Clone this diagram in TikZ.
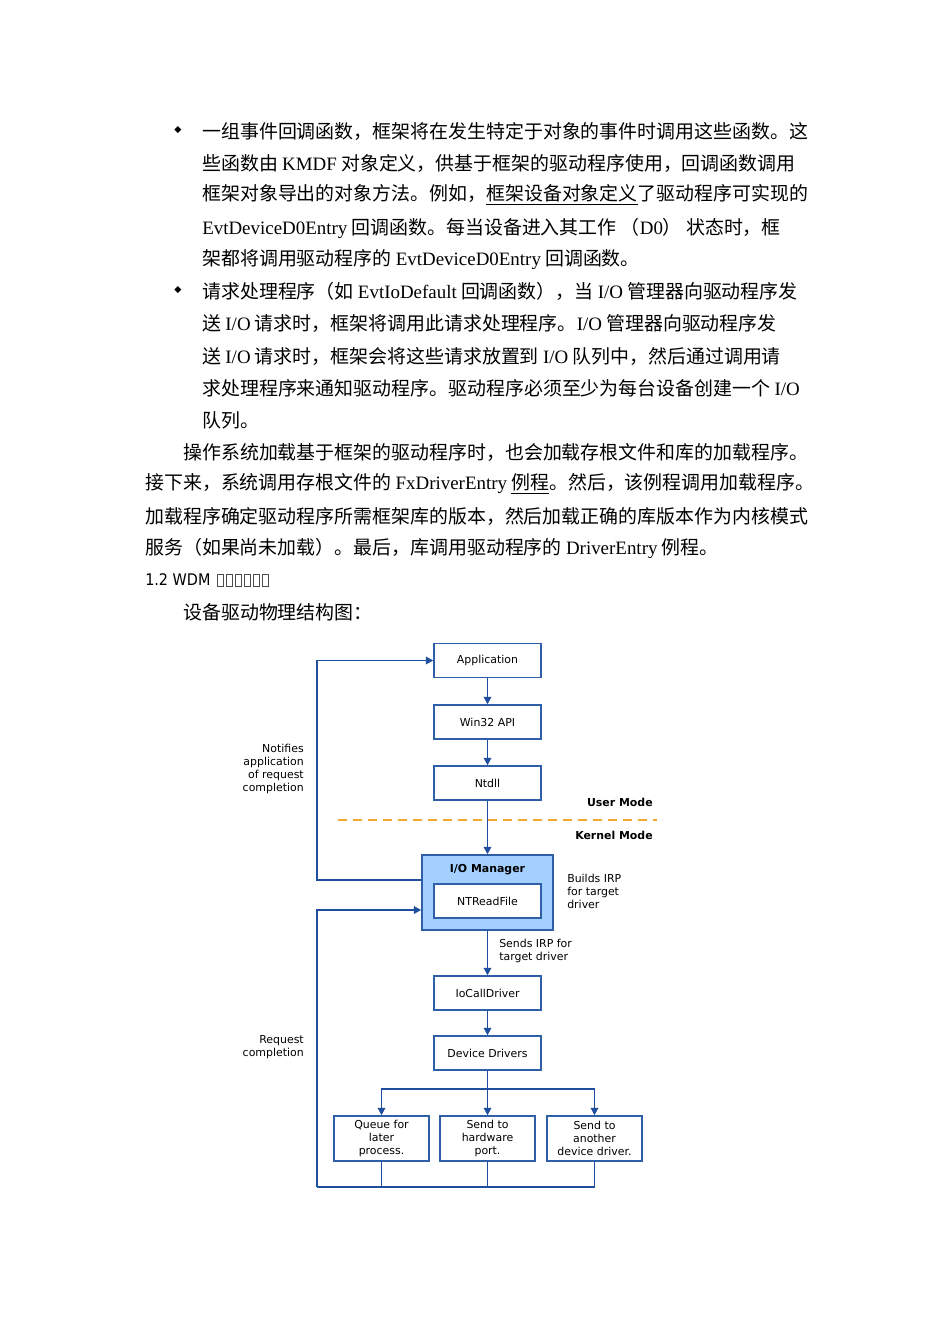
\documentclass[tikz,border=0pt]{standalone}
\usepackage{fontspec}
\setmainfont{Noto Sans CJK SC}
\newfontfamily\lat{Liberation Serif}
\newfontfamily\dv{DejaVu Sans}
\newfontfamily\hd{DejaVu Sans Condensed}
\usetikzlibrary{arrows.meta}
\newcommand{\e}[1]{{\lat #1}}
\definecolor{ln}{HTML}{1F4E9F}
\definecolor{bx}{HTML}{2F5FA8}
\definecolor{mgr}{HTML}{A3D0FF}
\definecolor{org}{HTML}{F0A830}
\begin{document}
\begin{tikzpicture}[x=0.75pt,y=-0.75pt,
  para/.style={anchor=west,inner sep=0pt,font=\fontsize{14.2pt}{16pt}\selectfont},
  bul/.style={inner sep=0pt,font=\dv\fontsize{7pt}{8pt}\selectfont},
  box/.style={draw=bx,line width=1.1pt,fill=white,minimum width=80.25pt,minimum height=25.5pt,inner sep=0pt,font=\dv\fontsize{8.2pt}{9.75pt}\selectfont},
  sbox/.style={draw=bx,line width=1.1pt,fill=white,minimum width=71.25pt,minimum height=33.75pt,inner sep=0pt,align=center,font=\dv\fontsize{8.2pt}{9.75pt}\selectfont},
  lbl/.style={inner sep=0pt,font=\dv\fontsize{8.2pt}{9.75pt}\selectfont},
  con/.style={draw=ln,line width=1.4pt,line join=miter},
  arr/.style={con,-{Triangle[length=5.5pt,width=5.5pt]}}]
\useasboundingbox (0,0) rectangle (950,1344);
\fill[white] (0,0) rectangle (950,1344);
% text
\node[bul] (b1) at (178,130) {◆};
\node[para] (l1) at (202,131) {一组事件回调函数，框架将在发生特定于对象的事件时调用这些函数。这};
\node[para] (l2) at (202,163) {些函数由 \e{KMDF} 对象定义，供基于框架的驱动程序使用，回调函数调用};
\node[para] (l3) at (202,195) {框架对象导出的对象方法。例如，\underline{框架设备对象定义}了驱动程序可实现的};
\node[para] (l4) at (202,228) {\e{EvtDeviceD0Entry} 回调函数。每当设备进入其工作 （\e{D0}） 状态时，框};
\node[para] (l5) at (202,260) {架都将调用驱动程序的 \e{EvtDeviceD0Entry} 回调函数。};
\node[bul] (b2) at (178,290) {◆};
\node[para] (l6) at (202,291) {请求处理程序（如 \e{EvtIoDefault} 回调函数），当 \e{I/O} 管理器向驱动程序发};
\node[para] (l7) at (202,324) {送 \e{I/O} 请求时，框架将调用此请求处理程序。\e{I/O} 管理器向驱动程序发};
\node[para] (l8) at (202,356) {送 \e{I/O} 请求时，框架会将这些请求放置到 \e{I/O} 队列中，然后通过调用请};
\node[para] (l9) at (202,388) {求处理程序来通知驱动程序。驱动程序必须至少为每台设备创建一个 \e{I/O}};
\node[para] (l10) at (202,420) {队列。};
\node[para] (l11) at (183,452) {操作系统加载基于框架的驱动程序时，也会加载存根文件和库的加载程序。};
\node[para] (l12) at (145,484) {接下来，系统调用存根文件的 \e{FxDriverEntry} \underline{例程}。然后，该例程调用加载程序。};
\node[para] (l13) at (145,516) {加载程序确定驱动程序所需框架库的版本，然后加载正确的库版本作为内核模式};
\node[para] (l14) at (145,548) {服务（如果尚未加载）。最后，库调用驱动程序的 \e{DriverEntry} 例程。};
\node[anchor=west,inner sep=0pt,font=\hd\fontsize{12pt}{14pt}\selectfont] (h) at (145,580) {1.2 WDM};
\foreach \i in {0,...,5} \draw[black!70,line width=0.5pt] (217+\i*9,574) rectangle (223+\i*9,586);
\node[para] (l15) at (183,612) {设备驱动物理结构图：};
% diagram
\node[box] (app) at (487.5,660.5) {Application};
\node[box] (w32) at (487.5,722) {Win32 API};
\node[box] (ntd) at (487.5,783) {Ntdll};
\draw[org,line width=1.4pt,dash pattern=on 6.75pt off 4.5pt] (338,820) -- (657,820);
\node[lbl,anchor=east,font=\dv\bfseries\fontsize{8.2pt}{9pt}\selectfont] (um) at (653,802) {User Mode};
\node[lbl,anchor=east,font=\dv\bfseries\fontsize{8.2pt}{9pt}\selectfont] (km) at (653,835) {Kernel Mode};
\node[draw=bx,line width=1.1pt,fill=mgr,minimum width=98.25pt,minimum height=56.25pt,inner sep=0pt] (mgr) at (487.5,892.5) {};
\node[lbl,font=\dv\bfseries\fontsize{8.2pt}{9pt}\selectfont] (mt) at (487.5,870) {I/O Manager};
\node[box] (ntr) at (487.5,901) {NTReadFile};
\node[lbl,anchor=west,align=left] (bld) at (567,891) {Builds IRP\\for target\\driver};
\node[box] (ioc) at (487.5,993) {IoCallDriver};
\node[box] (dev) at (487.5,1053) {Device Drivers};
\node[lbl,anchor=west,align=left] (snd) at (499,951) {Sends IRP for\\target driver};
\node[sbox] (q) at (381.5,1138.5) {Queue for\\later\\process.};
\node[sbox] (hw) at (487.5,1138.5) {Send to\\hardware\\port.};
\node[sbox] (an) at (594.5,1138.5) {Send to\\another\\device driver.};
\node[lbl,anchor=east,align=right] (nt) at (304,769) {Notifies\\application\\of request\\completion};
\node[lbl,anchor=east,align=right] (rc) at (304,1047.5) {Request\\completion};
\coordinate (ul) at (317,880);
\coordinate (ll) at (317,1187);
\coordinate (lt) at (317,910);
\coordinate (br) at (487.5,1089);
\draw[arr] (app) -- (w32);
\draw[arr] (w32) -- (ntd);
\draw[arr] (ntd) -- (mgr.north);
\draw[arr] (mgr.south) -- (ioc);
\draw[arr] (ioc) -- (dev);
\draw[con] (dev.south) -- (br);
\draw[arr] (br) -- (hw.north);
\draw[arr] (br) -| (q.north);
\draw[arr] (br) -| (an.north);
\draw[arr] (mgr.west |- ul) -- (ul) -- (ul |- app.west) -- (app.west);
\draw[con] (an.south) |- (ll);
\draw[con] (q.south) -- (q.south |- ll);
\draw[con] (hw.south) -- (hw.south |- ll);
\draw[arr] (ll) -- (lt) -- (mgr.west |- lt);
\end{tikzpicture}
\end{document}
